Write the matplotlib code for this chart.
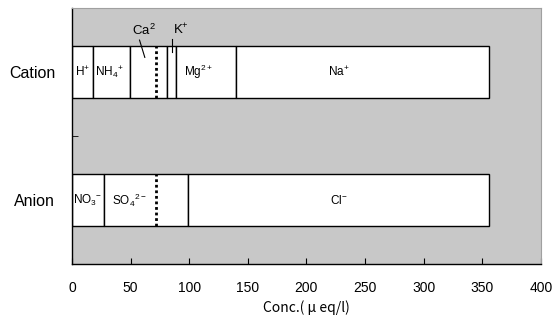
import matplotlib.pyplot as plt
import numpy as np

plt.rcParams['font.family'] = ['Liberation Sans', 'DejaVu Sans']
plt.rcParams['mathtext.fontset'] = 'custom'
plt.rcParams['mathtext.rm'] = 'Liberation Sans'
plt.rcParams['mathtext.it'] = 'Liberation Sans'

# ion composition (ueq/l)
categories = ['Anion', 'Cation']
cation_names = ['H$^{+}$', 'NH$_4$$^{+}$', 'Ca$^{2}$', 'K$^{+}$', 'Mg$^{2+}$', 'Na$^{+}$']
cation_vals = [18.0, 31.7, 31.6, 7.7, 51.0, 215.5]
anion_names = ['NO$_3$$^{-}$', 'SO$_4$$^{2-}$', 'Cl$^{-}$']
anion_vals = [27.6, 71.6, 256.6]
dotted_marker = [71.6, 71.6]   # anion, cation

x_ticks = [0, 50, 100, 150, 200, 250, 300, 350, 400]

# label x positions (data units) for the labels
cation_label_x = [9, 32, 61, 93, 108, 228]
anion_label_x = [13.5, 49, 228]

fig = plt.figure(figsize=(5.53, 3.24), dpi=100)
ax = fig.add_axes([0.130, 0.185, 0.848, 0.790])
ax.set_facecolor('#c8c8c8')

bar_h = 0.40
for yi, vals in [(1, cation_vals), (0, anion_vals)]:
    lefts = np.concatenate([[0], np.cumsum(vals)[:-1]])
    ax.barh(yi, vals, left=lefts, height=bar_h, color='white',
            edgecolor='black', linewidth=1.0, zorder=2)

for yi, xm in zip([0, 1], dotted_marker):
    ax.plot([xm, xm], [yi - bar_h / 2, yi + bar_h / 2], color='black',
            linestyle=(0, (1, 1)), linewidth=2.0, zorder=3)

# cation labels inside the bar
for i, (name, lx) in enumerate(zip(cation_names, cation_label_x)):
    if i in (2, 3):
        continue
    ax.text(lx, 1.0, name, ha='center', va='center', fontsize=8.5, zorder=4)

# Ca and K labels above the bar with leader lines
ca_left = sum(cation_vals[:2])
ax.text(cation_label_x[2], 1.27, cation_names[2], ha='center', va='bottom',
        fontsize=9.5, zorder=4)
ax.plot([ca_left + 8, ca_left + 12.5], [1.25, 1.115], color='black', linewidth=0.8)
k_left = sum(cation_vals[:3])
ax.text(cation_label_x[3], 1.27, cation_names[3], ha='center', va='bottom',
        fontsize=9.5, zorder=4)
ax.plot([k_left + 4.5, k_left + 4.5], [1.26, 1.155], color='black', linewidth=0.8)

for name, lx in zip(anion_names, anion_label_x):
    ax.text(lx, 0.0, name, ha='center', va='center', fontsize=8.5, zorder=4)

ax.set_xlim(0, 400)
ax.set_ylim(-0.5, 1.5)
ax.set_xticks(x_ticks)
ax.set_xticklabels([str(t) for t in x_ticks], fontsize=10)
ax.set_yticks([0, 1])
ax.set_yticklabels(categories, fontsize=11.5)
ax.set_yticks([0.5], minor=True)
ax.tick_params(axis='x', direction='in', length=4, pad=12)
ax.tick_params(axis='y', which='both', length=4, direction='in', pad=12)
ax.set_xlabel('Conc.( \u03bc eq/l)', fontsize=10,
              family=['Noto Sans CJK JP', 'DejaVu Sans'], labelpad=4)

for s in ['top', 'right']:
    ax.spines[s].set_color('#a0a0a0')
for s in ['left', 'bottom']:
    ax.spines[s].set_color('black')
    ax.spines[s].set_linewidth(1.0)

fig.savefig('out.png', dpi=100)
